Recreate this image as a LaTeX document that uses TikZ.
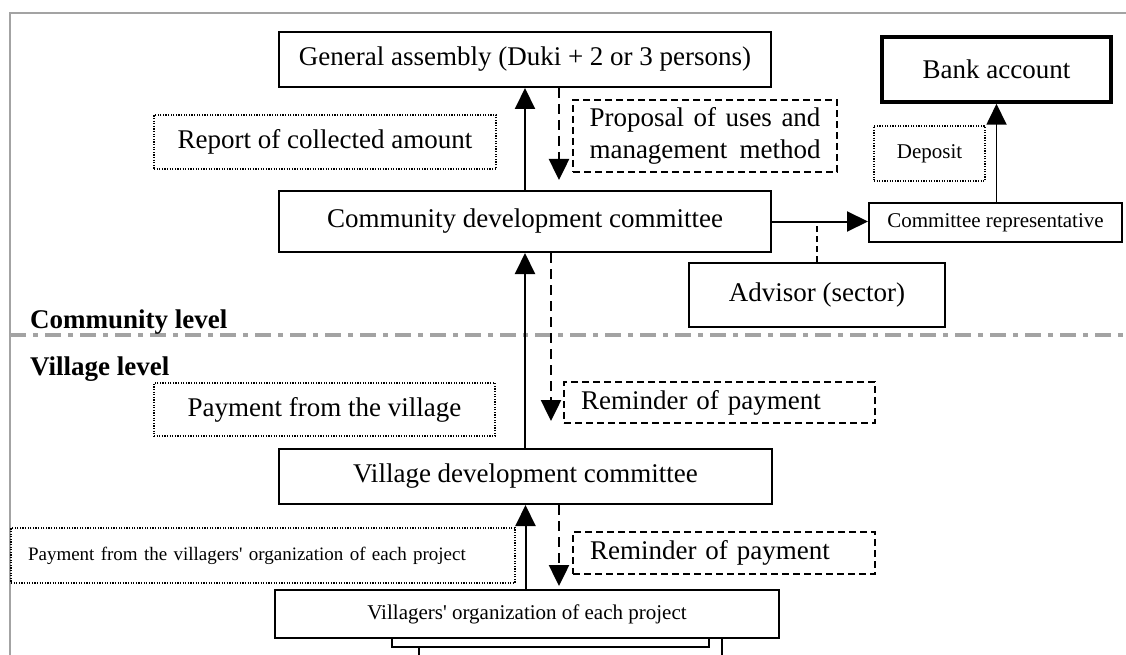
\documentclass[tikz,border=0pt]{standalone}
\usepackage{fontspec}
\setmainfont{Liberation Serif}
\usetikzlibrary{arrows.meta}
\definecolor{framegray}{HTML}{A3A3A3}
\begin{document}
\begin{tikzpicture}[x=1pt,y=-1pt,
  solidbox/.style={draw, line width=2pt, fill=white, inner sep=0pt},
  dashbox/.style={draw, line width=1.5pt, dash pattern=on 7pt off 4pt, inner sep=0pt},
  dotbox/.style={draw, line width=1.4pt, dash pattern=on 1.2pt off 1.4pt, inner sep=0pt},
  big/.style={font=\fontsize{27}{32}\selectfont},
  small/.style={font=\fontsize{21}{25}\selectfont},
  tiny/.style={font=\fontsize{19}{23}\selectfont},
  levelname/.style={font=\fontsize{27}{32}\selectfont\bfseries, anchor=base west, inner sep=0pt},
  tip/.style={-{Triangle[length=21pt,width=20pt]}},
  upflow/.style={tip, line width=2pt},
  downflow/.style={tip, line width=2.5pt, dash pattern=on 10pt off 6pt},
  frameline/.style={draw=framegray, line width=2pt},
  levelline/.style={draw=framegray, line width=3.5pt, dash pattern=on 16pt off 7pt on 5pt off 7pt},
]
\useasboundingbox (0,0) rectangle (1126,655);

% outer frame
\draw[frameline] (9,13) -- (1126,13);
\draw[frameline] (10,13) -- (10,655);

% community level boxes
\node[solidbox, big, minimum width=492pt, minimum height=55pt] (ga) at (525,59.5)
  {General assembly (Duki + 2 or 3 persons)};
\node[solidbox, line width=3.5pt, big, minimum width=229pt, minimum height=65pt] (bank) at (996.5,69.5)
  {Bank account};
\node[dotbox, big, minimum width=342pt, minimum height=54pt] (report) at (325,142)
  {Report of collected amount};
\node[dashbox, big, minimum width=264pt, minimum height=72pt, align=center] (proposal) at (705,136)
  {\makebox[231pt][s]{Proposal of uses and}\\\makebox[231pt][s]{management method}};
\node[dotbox, small, minimum width=111pt, minimum height=55pt] (deposit) at (929.5,153.5)
  {Deposit};
\node[solidbox, big, minimum width=492pt, minimum height=61pt] (cdc) at (525,221.5)
  {Community development committee};
\node[solidbox, small, minimum width=253pt, minimum height=39pt] (cr) at (995.5,222.5)
  {Committee representative};
\node[solidbox, big, minimum width=256pt, minimum height=64pt] (adv) at (817,295)
  {Advisor (sector)};

% boundary between the two levels
\coordinate (lvlL) at (10,335);
\coordinate (lvlR) at (1126,335);
\draw[levelline] (lvlL) -- (lvlR);
\node[levelname] (commlvl) at (30,328) {Community level};
\node[levelname] (villlvl) at (30,375) {Village level};

% village level boxes
\node[dotbox, big, minimum width=341pt, minimum height=53pt] (payvillage) at (324.5,409.5)
  {Payment from the village};
\node[dashbox, big, text width=277pt, inner xsep=17pt, minimum height=41pt, align=left] (remind1) at (719.5,402.5)
  {Reminder of payment};
\node[solidbox, big, minimum width=493pt, minimum height=55pt] (vdc) at (525.5,476.5)
  {Village development committee};
\node[dotbox, tiny, text width=470pt, inner xsep=17pt, minimum height=55pt, align=left] (payorg) at (263,555.5)
  {Payment from the villagers\textquotesingle\ organization of each project};
\node[dashbox, big, text width=268pt, inner xsep=17pt, minimum height=42pt, align=left] (remind2) at (724,553)
  {Reminder of payment};

% stacked organizations behind the front one
\begin{scope}
  \clip (0,0) rectangle (1126,655);
  \draw[line width=2pt, fill=white] (419,620) rectangle (722,700);
  \draw[line width=2pt, fill=white] (392,600) rectangle (709,647);
\end{scope}
\node[solidbox, small, minimum width=504pt, minimum height=48pt] (vo) at (527,614)
  {Villagers\textquotesingle\ organization of each project};

% flows
\draw[upflow] (cdc.north) -- (ga.south);
\draw[downflow] ([xshift=34pt]ga.south) -- ([xshift=34pt,yshift=10pt]cdc.north);
\draw[upflow] (vdc.north -| cdc.south) -- (cdc.south);
\draw[downflow] ([xshift=26pt]cdc.south) -- ([xshift=25.5pt,yshift=27pt]vdc.north);
\draw[upflow] (vo.north -| vdc.south) -- (vdc.south);
\draw[downflow] ([xshift=33.5pt]vdc.south) -- ([xshift=32pt,yshift=3pt]vo.north);
\draw[upflow] (cdc.east) -- (cdc.east -| cr.west);
\draw[line width=1.5pt, dash pattern=on 6pt off 4pt] (adv.north) -- (adv.north |- cdc.east);
\draw[upflow, line width=1.8pt] (cr.north -| bank.south) -- (bank.south);
\end{tikzpicture}
\end{document}
